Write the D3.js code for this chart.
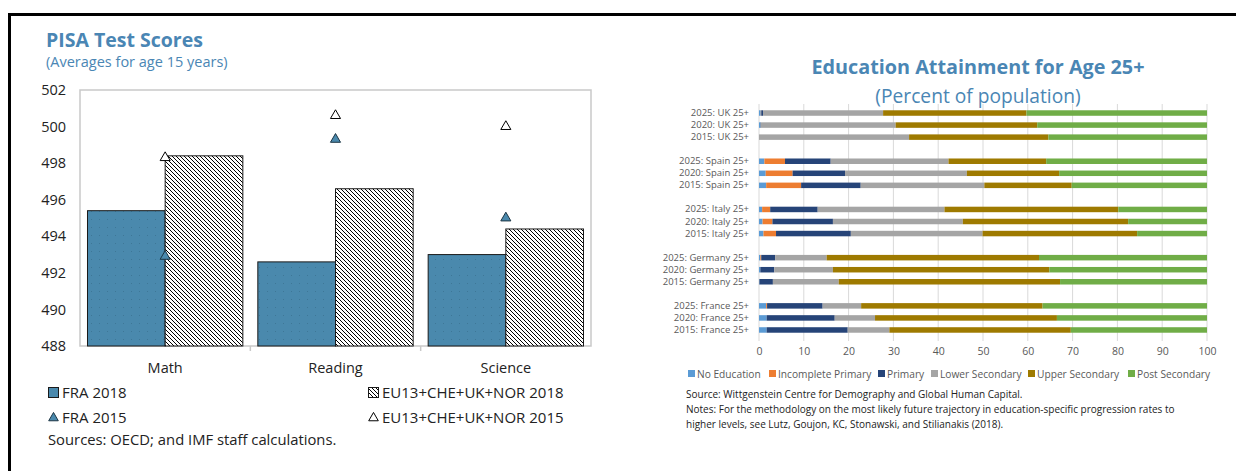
<!DOCTYPE html>
<html>
<head>
<meta charset="utf-8">
<script src="https://cdn.jsdelivr.net/npm/d3@7"></script>
<style>
  body { margin: 0; background: #fff; }
  svg { display: block; font-family: "Open Sans", sans-serif; }
</style>
</head>
<body>
<svg id="chart" width="1236" height="471"></svg>
<script>
// ---- left panel data (PISA) ----
const subjects = ["Math", "Reading", "Science"];
const fra2018 = [495.4, 492.6, 493.0];
const eu2018 = [498.4, 496.6, 494.4];
const fra2015 = [492.9, 499.3, 495.0];
const eu2015 = [498.3, 500.6, 500.0];
const pisaTicks = [488, 490, 492, 494, 496, 498, 500, 502];

// ---- right panel data (education attainment, % of population) ----
const rowLabels = [
  "2025: UK 25+", "2020: UK 25+", "2015: UK 25+", "",
  "2025: Spain 25+", "2020: Spain 25+", "2015: Spain 25+", " ",
  "2025: Italy 25+", "2020: Italy 25+", "2015: Italy 25+", "  ",
  "2025: Germany 25+", "2020: Germany 25+", "2015: Germany 25+", "   ",
  "2025: France 25+", "2020: France 25+", "2015: France 25+"
];
const levels = ["No Education", "Incomplete Primary", "Primary", "Lower Secondary", "Upper Secondary", "Post Secondary"];
const levelColors = ["#5B9BD5", "#ED7D31", "#264478", "#A5A5A5", "#9E7A00", "#70AD47"];
// one value per real row, in the order of rowLabels without blanks
const noEducation       = [0.4, 0.3, 0.0,  1.2, 1.5, 1.6,  0.7, 0.8, 1.0,  0.3, 0.3, 0.1,  1.6, 1.7, 1.7];
const incompletePrimary = [0.1, 0.0, 0.0,  4.6, 6.0, 7.8,  1.8, 2.2, 2.8,  0.2, 0.0, 0.0,  0.2, 0.0, 0.0];
const primary           = [0.4, 0.1, 0.0, 10.2, 11.7, 13.3, 10.6, 13.5, 16.7, 3.1, 3.1, 3.0, 12.4, 15.2, 18.1];
const lowerSecondary    = [26.8, 30.1, 33.5, 26.3, 27.2, 27.6, 28.3, 29.0, 29.4, 11.5, 13.1, 14.7, 8.6, 9.0, 9.3];
const upperSecondary    = [32.0, 31.6, 31.1, 21.8, 20.6, 19.5, 38.8, 36.9, 34.5, 47.4, 48.3, 49.4, 40.5, 40.6, 40.5];
const postSecondary     = [40.3, 37.9, 35.4, 35.9, 33.0, 30.2, 19.8, 17.6, 15.6, 37.5, 35.2, 32.8, 36.7, 33.5, 30.4];
const pctTicks = [0, 10, 20, 30, 40, 50, 60, 70, 80, 90, 100];

const blue = "#4A86B4";
const fraBlue = "#4A89AD";
const svg = d3.select("#chart");

// pattern defs
const defs = svg.append("defs");
const dots = defs.append("pattern").attr("id", "dots")
  .attr("width", 8).attr("height", 8).attr("patternUnits", "userSpaceOnUse");
dots.append("rect").attr("width", 8).attr("height", 8).attr("fill", fraBlue);
dots.append("rect").attr("x", 3).attr("y", 3).attr("width", 1).attr("height", 1).attr("fill", "#3E7797");
const hatch = defs.append("pattern").attr("id", "hatch")
  .attr("width", 4).attr("height", 4).attr("patternUnits", "userSpaceOnUse");
hatch.append("rect").attr("width", 4).attr("height", 4).attr("fill", "#fff");
hatch.append("path").attr("d", "M-1,-1 L5,5 M-1,3 L1,5 M3,-1 L5,1")
  .attr("stroke", "#000").attr("stroke-width", 1);

// outer frame
svg.append("rect").attr("x", 9.5).attr("y", 14.5).attr("width", 1240).attr("height", 480)
  .attr("fill", "none").attr("stroke", "#000").attr("stroke-width", 3);

// ================= LEFT: PISA =================
const L = { left: 80, right: 591, top: 90, bottom: 346 };

svg.append("text").attr("x", 46).attr("y", 47)
  .attr("fill", blue).attr("font-weight", "bold").attr("font-size", 19.5)
  .text("PISA Test Scores");
svg.append("text").attr("x", 46).attr("y", 67)
  .attr("fill", blue).attr("font-size", 14.5)
  .text("(Averages for age 15 years)");

const x0 = d3.scaleBand().domain(subjects).range([L.left, L.right]);
const yP = d3.scaleLinear().domain([488, 502]).range([L.bottom, L.top]);
const barW = x0.bandwidth() * 0.456;

svg.append("rect").attr("x", L.left).attr("y", L.top)
  .attr("width", L.right - L.left).attr("height", L.bottom - L.top)
  .attr("fill", "none").attr("stroke", "#C9C9C9").attr("stroke-width", 1.5);

const yAxisP = svg.append("g").attr("transform", "translate(" + L.left + ",0)")
  .call(d3.axisLeft(yP).tickValues(pisaTicks).tickSize(0).tickPadding(14).tickFormat(d3.format("d")));
yAxisP.select(".domain").remove();
yAxisP.selectAll("text").attr("font-size", 14.5).attr("fill", "#222").attr("font-family", "Open Sans");

const xAxisP = svg.append("g").attr("transform", "translate(0," + L.bottom + ")")
  .call(d3.axisBottom(x0).tickSize(0).tickPadding(17));
xAxisP.select(".domain").remove();
xAxisP.selectAll("text").attr("font-size", 14.5).attr("fill", "#222").attr("font-family", "Open Sans");

// small separators under the axis
svg.selectAll(".sep").data(subjects.slice(1)).enter().append("line")
  .attr("x1", d => x0(d)).attr("x2", d => x0(d))
  .attr("y1", L.bottom).attr("y2", L.bottom + 5)
  .attr("stroke", "#C9C9C9").attr("stroke-width", 1.5);

const centre = d => x0(d) + x0.bandwidth() / 2;

svg.selectAll(".fraBar").data(subjects).enter().append("rect")
  .attr("x", d => centre(d) - barW).attr("y", (d, i) => yP(fra2018[i]))
  .attr("width", barW).attr("height", (d, i) => yP(488) - yP(fra2018[i]))
  .attr("fill", "url(#dots)").attr("stroke", "#1a1a1a").attr("stroke-width", 1);

svg.selectAll(".euBar").data(subjects).enter().append("rect")
  .attr("x", d => centre(d)).attr("y", (d, i) => yP(eu2018[i]))
  .attr("width", barW).attr("height", (d, i) => yP(488) - yP(eu2018[i]))
  .attr("fill", "url(#hatch)").attr("stroke", "#1a1a1a").attr("stroke-width", 1);

const tri = d3.symbol().type(d3.symbolTriangle).size(44);
svg.selectAll(".fraTri").data(subjects).enter().append("path")
  .attr("d", tri).attr("transform", (d, i) => "translate(" + centre(d) + "," + yP(fra2015[i]) + ")")
  .attr("fill", fraBlue).attr("stroke", "#1c3544").attr("stroke-width", 1);
svg.selectAll(".euTri").data(subjects).enter().append("path")
  .attr("d", tri).attr("transform", (d, i) => "translate(" + centre(d) + "," + yP(eu2015[i]) + ")")
  .attr("fill", "#fff").attr("stroke", "#000").attr("stroke-width", 1);

// legend
const legL = svg.append("g").attr("font-size", 15).attr("fill", "#222");
legL.append("rect").attr("x", 48.5).attr("y", 387.5).attr("width", 10).attr("height", 10)
  .attr("fill", fraBlue).attr("stroke", "#1a1a1a");
legL.append("text").attr("x", 62).attr("y", 398).text("FRA 2018");
legL.append("rect").attr("x", 368.5).attr("y", 387.5).attr("width", 10).attr("height", 10)
  .attr("fill", "url(#hatch)").attr("stroke", "#1a1a1a");
legL.append("text").attr("x", 382).attr("y", 398).text("EU13+CHE+UK+NOR 2018");
legL.append("path").attr("d", d3.symbol().type(d3.symbolTriangle).size(40))
  .attr("transform", "translate(53.5,418)").attr("fill", fraBlue).attr("stroke", "#1c3544");
legL.append("text").attr("x", 62).attr("y", 423).text("FRA 2015");
legL.append("path").attr("d", d3.symbol().type(d3.symbolTriangle).size(40))
  .attr("transform", "translate(373.5,418)").attr("fill", "#fff").attr("stroke", "#000");
legL.append("text").attr("x", 382).attr("y", 423).text("EU13+CHE+UK+NOR 2015");
svg.append("text").attr("x", 48).attr("y", 445).attr("font-size", 14.8).attr("fill", "#222")
  .text("Sources: OECD; and IMF staff calculations.");

// ================= RIGHT: Education attainment =================
const R = { left: 759, right: 1207, top: 104, bottom: 341 };

svg.append("text").attr("x", 978).attr("y", 74).attr("text-anchor", "middle")
  .attr("fill", blue).attr("font-weight", "bold").attr("font-size", 19.8)
  .text("Education Attainment for Age 25+");
svg.append("text").attr("x", 978).attr("y", 103).attr("text-anchor", "middle")
  .attr("fill", blue).attr("font-size", 19.2)
  .text("(Percent of population)");

const xE = d3.scaleLinear().domain([0, 100]).range([R.left, R.right]);
const yE = d3.scaleBand().domain(rowLabels).range([107, 336]);

svg.selectAll(".grid").data(pctTicks).enter().append("line")
  .attr("x1", d => xE(d)).attr("x2", d => xE(d))
  .attr("y1", R.top).attr("y2", R.bottom)
  .attr("stroke", "#D9D9D9").attr("stroke-width", 1);

const xAxisE = svg.append("g").attr("transform", "translate(0," + R.bottom + ")")
  .call(d3.axisBottom(xE).tickValues(pctTicks).tickSize(0).tickPadding(7));
xAxisE.select(".domain").remove();
xAxisE.selectAll("text").attr("font-size", 10.5).attr("fill", "#595959").attr("font-family", "Open Sans");

const realRows = rowLabels.filter(d => d.trim() !== "");
const yAxisE = svg.append("g").attr("transform", "translate(" + (R.left - 10) + ",0)")
  .call(d3.axisLeft(yE).tickValues(realRows).tickSize(0).tickPadding(0));
yAxisE.select(".domain").remove();
yAxisE.selectAll("text").attr("font-size", 9.5).attr("fill", "#595959").attr("font-family", "Open Sans");

const series = [noEducation, incompletePrimary, primary, lowerSecondary, upperSecondary, postSecondary];
const table = realRows.map((r, i) => {
  const o = { row: r };
  levels.forEach((lv, k) => { o[lv] = series[k][i]; });
  return o;
});
const stacked = d3.stack().keys(levels)(table);
const barH = 5.5;

svg.selectAll(".layer").data(stacked).enter().append("g")
  .attr("fill", (d, i) => levelColors[i])
  .selectAll("rect").data(d => d).enter().append("rect")
  .attr("x", d => xE(d[0]))
  .attr("y", d => yE(d.data.row) + (yE.bandwidth() - barH) / 2)
  .attr("width", d => Math.max(0, xE(d[1]) - xE(d[0])))
  .attr("height", barH);

// legend
const legX = [688, 769, 878, 931, 1028, 1128];
const legE = svg.append("g").attr("font-size", 10.2).attr("fill", "#595959");
levels.forEach((lv, i) => {
  legE.append("rect").attr("x", legX[i]).attr("y", 370).attr("width", 7).attr("height", 7)
    .attr("fill", levelColors[i]);
  legE.append("text").attr("x", legX[i] + 9).attr("y", 378).text(lv);
});

const notes = svg.append("g").attr("font-size", 10).attr("fill", "#222");
notes.append("text").attr("x", 686).attr("y", 398)
  .text("Source: Wittgenstein Centre for Demography and Global Human Capital.");
notes.append("text").attr("x", 686).attr("y", 413)
  .text("Notes: For the methodology on the most likely future trajectory in education-specific progression rates to");
notes.append("text").attr("x", 686).attr("y", 428)
  .text("higher levels, see Lutz, Goujon, KC, Stonawski, and Stilianakis (2018).");
</script>
</body>
</html>
